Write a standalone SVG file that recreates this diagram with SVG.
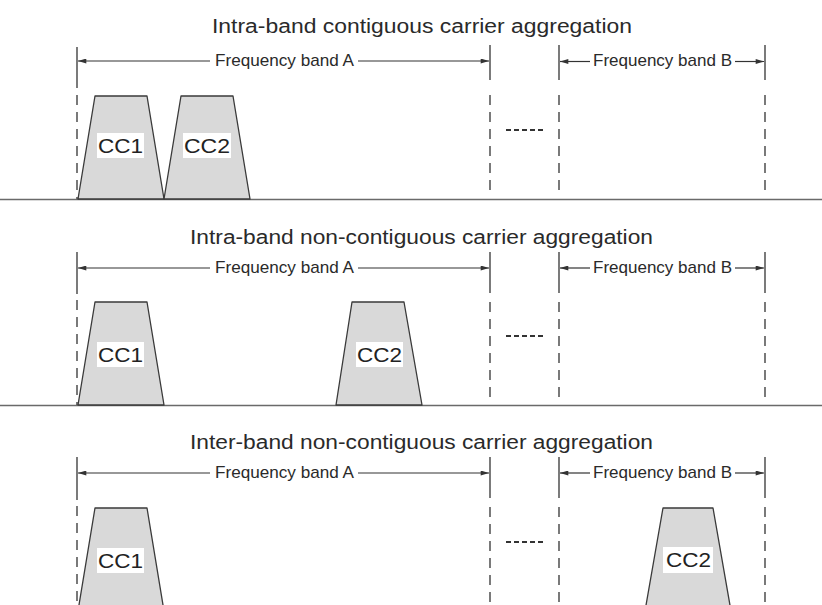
<svg xmlns="http://www.w3.org/2000/svg" width="822" height="605" viewBox="0 0 822 605">
  <defs>
    <style>
      .title { font-family: "Liberation Sans", Arial, sans-serif; font-size: 20px; fill: #2a2a2a; }
      .band { font-family: "Liberation Sans", Arial, sans-serif; font-size: 17px; fill: #2a2a2a; }
      .cc { font-family: "Liberation Sans", Arial, sans-serif; font-size: 21px; fill: #222; }
      .axis { stroke: #6a6a6a; stroke-width: 1.6; fill: none; }
      .edge { stroke: #333; stroke-width: 1.3; fill: none; }
      .edge-dash { stroke: #333; stroke-width: 1.3; fill: none; stroke-dasharray: 10 7; }
      .dim { stroke: #333; stroke-width: 1.2; fill: none; marker-end: url(#head); }
      .dots { stroke: #333; stroke-width: 2; stroke-dasharray: 5 3; fill: none; }
      .carrier { fill: #d9d9d9; stroke: #3a3a3a; stroke-width: 1.3; stroke-linejoin: round; }
      .tag { fill: #ffffff; }
    </style>
    <marker id="head" viewBox="0 0 10 6" refX="10" refY="3" markerWidth="10" markerHeight="5" markerUnits="userSpaceOnUse" orient="auto">
      <path d="M0,0 L10,3 L0,6 Z" fill="#333"/>
    </marker>
  </defs>
  <rect width="822" height="605" fill="#ffffff"/>

  <!-- Panel 1: intra-band contiguous -->
  <g id="panel-contiguous">
    <text class="title" x="212" y="33" textLength="420" lengthAdjust="spacingAndGlyphs">Intra-band contiguous carrier aggregation</text>
    <line class="axis" x1="0" y1="199.5" x2="822" y2="199.5"/>
    <g id="bounds-1">
      <line class="edge" x1="77" y1="47" x2="77" y2="88"/>
      <line class="edge-dash" x1="77" y1="95" x2="77" y2="199"/>
      <line class="edge" x1="490" y1="45" x2="490" y2="80"/>
      <line class="edge-dash" x1="490" y1="95" x2="490" y2="194"/>
      <line class="edge" x1="559" y1="45" x2="559" y2="80"/>
      <line class="edge-dash" x1="559" y1="95" x2="559" y2="194"/>
      <line class="edge" x1="765" y1="45" x2="765" y2="80"/>
      <line class="edge-dash" x1="765" y1="95" x2="765" y2="194"/>
      <line class="dots" x1="506" y1="130" x2="543" y2="130"/>
    </g>
    <g id="cc1-1">
      <path class="carrier" d="M78,199 L95,96 L147,96 L164,199 Z"/>
      <rect class="tag" x="97" y="133" width="47" height="25"/>
      <text class="cc" x="98" y="152.5" textLength="45" lengthAdjust="spacingAndGlyphs">CC1</text>
    </g>
    <g id="cc2-1">
      <path class="carrier" d="M164,199 L181,96 L233,96 L250,199 Z"/>
      <rect class="tag" x="183" y="133" width="48" height="25"/>
      <text class="cc" x="184" y="152.5" textLength="46" lengthAdjust="spacingAndGlyphs">CC2</text>
    </g>
  </g>

  <!-- Panel 2: intra-band non-contiguous -->
  <g id="panel-intra-noncontiguous">
    <text class="title" x="190" y="244" textLength="463" lengthAdjust="spacingAndGlyphs">Intra-band non-contiguous carrier aggregation</text>
    <line class="axis" x1="0" y1="405.5" x2="822" y2="405.5"/>
    <g id="bounds-2">
      <line class="edge" x1="77" y1="252" x2="77" y2="294"/>
      <line class="edge-dash" x1="77" y1="300" x2="77" y2="405"/>
      <line class="edge" x1="490" y1="252" x2="490" y2="293"/>
      <line class="edge-dash" x1="490" y1="302" x2="490" y2="400"/>
      <line class="edge" x1="559" y1="252" x2="559" y2="293"/>
      <line class="edge-dash" x1="559" y1="302" x2="559" y2="400"/>
      <line class="edge" x1="765" y1="252" x2="765" y2="293"/>
      <line class="edge-dash" x1="765" y1="302" x2="765" y2="400"/>
      <line class="dots" x1="506" y1="336" x2="543" y2="336"/>
    </g>
    <g id="cc1-2">
      <path class="carrier" d="M78,405 L95,302 L147,302 L164,405 Z"/>
      <rect class="tag" x="97" y="342" width="47" height="25"/>
      <text class="cc" x="98" y="361.5" textLength="45" lengthAdjust="spacingAndGlyphs">CC1</text>
    </g>
    <g id="cc2-2">
      <path class="carrier" d="M336,405 L352,302 L404,302 L422,405 Z"/>
      <rect class="tag" x="356" y="342" width="47" height="25"/>
      <text class="cc" x="357" y="361.5" textLength="45" lengthAdjust="spacingAndGlyphs">CC2</text>
    </g>
  </g>

  <!-- Panel 3: inter-band non-contiguous -->
  <g id="panel-inter-noncontiguous">
    <text class="title" x="190" y="449" textLength="463" lengthAdjust="spacingAndGlyphs">Inter-band non-contiguous carrier aggregation</text>
    <g id="bounds-3">
      <line class="edge" x1="77" y1="457" x2="77" y2="500"/>
      <line class="edge-dash" x1="77" y1="506" x2="77" y2="605"/>
      <line class="edge" x1="490" y1="457" x2="490" y2="498"/>
      <line class="edge-dash" x1="490" y1="507" x2="490" y2="605"/>
      <line class="edge" x1="559" y1="457" x2="559" y2="498"/>
      <line class="edge-dash" x1="559" y1="507" x2="559" y2="605"/>
      <line class="edge" x1="765" y1="457" x2="765" y2="498"/>
      <line class="edge-dash" x1="765" y1="507" x2="765" y2="605"/>
      <line class="dots" x1="506" y1="542" x2="543" y2="542"/>
    </g>
    <g id="cc1-3">
      <path class="carrier" d="M78,611 L95,508 L147,508 L164,611 Z"/>
      <rect class="tag" x="97" y="548" width="47" height="25"/>
      <text class="cc" x="98" y="568" textLength="45" lengthAdjust="spacingAndGlyphs">CC1</text>
    </g>
    <g id="cc2-3">
      <path class="carrier" d="M645,611 L663,508 L713,508 L731,611 Z"/>
      <rect class="tag" x="663" y="547" width="50" height="26"/>
      <text class="cc" x="666" y="567" textLength="45" lengthAdjust="spacingAndGlyphs">CC2</text>
    </g>
  </g>

  <!-- Band extent arrows -->
  <g id="connectors">
    <line class="dim" x1="210" y1="61" x2="78" y2="61"/>
    <line class="dim" x1="358" y1="61" x2="489" y2="61"/>
    <line class="dim" x1="590" y1="61.5" x2="560" y2="61.5"/>
    <line class="dim" x1="735" y1="61.5" x2="764" y2="61.5"/>

    <line class="dim" x1="210" y1="268" x2="78" y2="268"/>
    <line class="dim" x1="358" y1="268" x2="489" y2="268"/>
    <line class="dim" x1="590" y1="268" x2="560" y2="268"/>
    <line class="dim" x1="735" y1="268" x2="764" y2="268"/>

    <line class="dim" x1="210" y1="473" x2="78" y2="473"/>
    <line class="dim" x1="358" y1="473" x2="489" y2="473"/>
    <line class="dim" x1="590" y1="473" x2="560" y2="473"/>
    <line class="dim" x1="735" y1="473" x2="764" y2="473"/>

    <text class="band" x="215" y="65.5" textLength="139" lengthAdjust="spacingAndGlyphs">Frequency band A</text>
    <text class="band" x="593" y="66" textLength="139" lengthAdjust="spacingAndGlyphs">Frequency band B</text>
    <text class="band" x="215" y="272.5" textLength="139" lengthAdjust="spacingAndGlyphs">Frequency band A</text>
    <text class="band" x="593" y="272.5" textLength="139" lengthAdjust="spacingAndGlyphs">Frequency band B</text>
    <text class="band" x="215" y="477.5" textLength="139" lengthAdjust="spacingAndGlyphs">Frequency band A</text>
    <text class="band" x="593" y="477.5" textLength="139" lengthAdjust="spacingAndGlyphs">Frequency band B</text>
  </g>
</svg>
